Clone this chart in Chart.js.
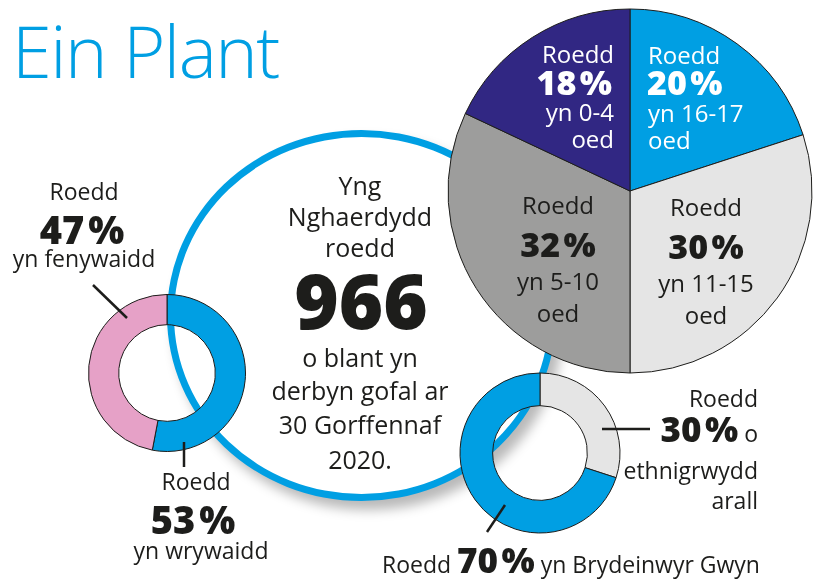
<!DOCTYPE html>
<html lang="cy">
<head>
<meta charset="utf-8">
<title>Ein Plant</title>
<script src="https://cdn.jsdelivr.net/npm/chart.js@4.4.1/dist/chart.umd.min.js"></script>
<style>
  html, body { margin: 0; padding: 0; background: #fff; }
  body {
    width: 819px; height: 580px; position: relative; overflow: hidden;
    font-family: "Open Sans", "Noto Sans", sans-serif; color: #1d1d1b;
  }
  .title {
    position: absolute; left: 12px; top: 14px; margin: 0;
    font-size: 72px; font-weight: 300; letter-spacing: -1.5px; line-height: 1;
    color: #009fe3;
  }
  .ring {
    position: absolute; left: 167px; top: 130px; width: 375px; height: 357px;
    border: 7px solid #009fe3; border-radius: 50%; background: #fff;
    box-shadow: 7px 9px 12px rgba(0, 0, 0, 0.28);
  }
  canvas { position: absolute; }
  #leaders { position: absolute; left: 0; top: 0; }
  .t { position: absolute; white-space: nowrap; line-height: 1; font-size: 23px; }
  .t.c { transform: translate(-50%, -50%); }
  .t.r { transform: translate(-100%, -50%); }
  .t.l { transform: translate(0, -50%); }
  .big { font-weight: 800; font-size: 38px; }
  .pie { font-size: 24px; }
  .pie.big { font-size: 34px; }
  .mid { font-size: 25px; }
  .huge { font-weight: 800; font-size: 76px; }
  .white { color: #fff; }
  b { font-weight: 800; font-size: 35px; }
</style>
</head>
<body>
<h1 class="title">Ein Plant</h1>
<div class="ring"></div>
<canvas id="ageChart" width="380" height="380" style="left:440px; top:1px;"></canvas>
<canvas id="sexChart" width="170" height="170" style="left:82px; top:288px;"></canvas>
<canvas id="ethnicChart" width="180" height="180" style="left:450px; top:363px;"></canvas>
<svg id="leaders" width="819" height="580">
  <g stroke="#1d1d1b" stroke-width="2.5">
    <line x1="93" y1="285" x2="127" y2="318"/>
    <line x1="184" y1="442" x2="184" y2="467"/>
    <line x1="602" y1="429" x2="650" y2="429"/>
    <line x1="505" y1="505" x2="487" y2="532"/>
  </g>
</svg>
<div id="labels"></div>
<script>
  // data
  const ageGroups = ["16-17", "11-15", "5-10", "0-4"];
  const ageShares = [20, 30, 32, 18];
  const ageColours = ["#009fe3", "#e5e5e5", "#9d9d9c", "#312783"];

  const sexGroups = ["yn wrywaidd", "yn fenywaidd"];
  const sexShares = [53, 47];
  const sexColours = ["#009fe3", "#e6a1c7"];

  const ethnicGroups = ["o ethnigrwydd arall", "yn Brydeinwyr Gwyn"];
  const ethnicShares = [30, 70];
  const ethnicColours = ["#e5e5e5", "#009fe3"];

  const childrenInCare = 966;

  function ringChart(id, labels, values, colours, radius, cutout) {
    return new Chart(document.getElementById(id), {
      type: "doughnut",
      data: {
        labels: labels,
        datasets: [{
          data: values,
          backgroundColor: colours,
          borderColor: "#1d1d1b",
          borderWidth: 1,
        }],
      },
      options: {
        responsive: false,
        animation: false,
        events: [],
        radius: radius,
        cutout: cutout,
        plugins: { legend: { display: false }, tooltip: { enabled: false } },
      },
    });
  }

  ringChart("ageChart", ageGroups, ageShares, ageColours, 182, 0);
  ringChart("sexChart", sexGroups, sexShares, sexColours, 78.5, 52);
  ringChart("ethnicChart", ethnicGroups, ethnicShares, ethnicColours, 80, 53);

  // Text
  const labels = document.getElementById("labels");
  function addText(x, y, align, html, cls) {
    const el = document.createElement("div");
    el.className = "t " + align + (cls ? " " + cls : "");
    el.style.left = x + "px";
    el.style.top = y + "px";
    el.innerHTML = html;
    labels.appendChild(el);
  }
  const pct = (v) => v + "\u200A%";

  // age pie
  addText(614, 54, "r", "Roedd", "pie white");
  addText(612, 82, "r", pct(ageShares[3]), "pie big white");
  addText(614, 112, "r", "yn " + ageGroups[3], "pie white");
  addText(614, 139, "r", "oed", "pie white");

  addText(648, 55, "l", "Roedd", "pie white");
  addText(647, 82, "l", pct(ageShares[0]), "pie big white");
  addText(648, 113, "l", "yn " + ageGroups[0], "pie white");
  addText(648, 140, "l", "oed", "pie white");

  addText(558, 205, "c", "Roedd", "pie");
  addText(558, 244, "c", pct(ageShares[2]), "pie big");
  addText(558, 281, "c", "yn " + ageGroups[2], "pie");
  addText(558, 313, "c", "oed", "pie");

  addText(706, 207, "c", "Roedd", "pie");
  addText(706, 246, "c", pct(ageShares[1]), "pie big");
  addText(706, 283, "c", "yn " + ageGroups[1], "pie");
  addText(706, 315, "c", "oed", "pie");

  // sex donut
  addText(84, 191, "c", "Roedd");
  addText(82, 229, "c", pct(sexShares[1]), "big");
  addText(84, 258, "c", sexGroups[1]);
  addText(196, 481, "c", "Roedd");
  addText(193, 519, "c", pct(sexShares[0]), "big");
  addText(201, 550, "c", sexGroups[0]);

  // centre circle
  addText(360, 185, "c", "Yng", "mid");
  addText(360, 216, "c", "Nghaerdydd", "mid");
  addText(360, 247, "c", "roedd", "mid");
  addText(361, 300, "c", String(childrenInCare), "huge");
  addText(360, 357, "c", "o blant yn", "mid");
  addText(360, 390, "c", "derbyn gofal ar", "mid");
  addText(360, 424, "c", "30 Gorffennaf", "mid");
  addText(360, 459, "c", "2020.", "mid");

  // ethnicity donut
  const otherWords = ethnicGroups[0].split(" ");
  addText(758, 398, "r", "Roedd");
  addText(758, 428, "r", "<b>" + pct(ethnicShares[0]) + "</b> " + otherWords[0]);
  addText(758, 470, "r", otherWords[1]);
  addText(758, 500, "r", otherWords[2]);
  addText(382, 559, "l", "Roedd <b>" + pct(ethnicShares[1]) + "</b> " + ethnicGroups[1]);
</script>
</body>
</html>
